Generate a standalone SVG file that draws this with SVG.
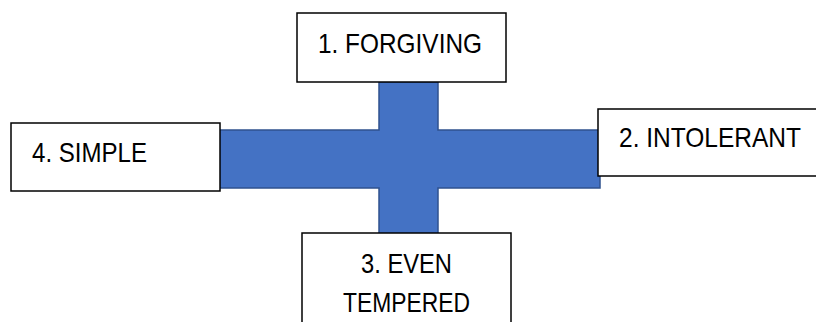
<svg xmlns="http://www.w3.org/2000/svg" width="816" height="322" viewBox="0 0 816 322">
<style>
.box{fill:#fff;stroke:#000;stroke-width:1.5}
.lbl{font-family:"Liberation Sans",Arial,sans-serif;font-size:27.5px;fill:#000}
.cross{fill:#4472C4;stroke:#2F528F;stroke-width:1.5}
</style>
<rect width="816" height="322" fill="#fff"/>
<g id="connectors">
<polygon class="cross" points="379,82 438,82 438,130 600,130 600,188 438,188 438,234 379,234 379,188 218,188 218,130 379,130"/>
</g>
<g id="n1">
<rect class="box" x="297" y="13" width="209" height="69"/>
<text class="lbl" x="318" y="53" textLength="164" lengthAdjust="spacingAndGlyphs">1. FORGIVING</text>
</g>
<g id="n2">
<rect class="box" x="598" y="109" width="225" height="67"/>
<text class="lbl" x="619" y="147" textLength="182" lengthAdjust="spacingAndGlyphs">2. INTOLERANT</text>
</g>
<g id="n3">
<rect class="box" x="302" y="233" width="209" height="100"/>
<text class="lbl" x="361" y="273" textLength="91" lengthAdjust="spacingAndGlyphs">3. EVEN</text>
<text class="lbl" x="343" y="312" textLength="127" lengthAdjust="spacingAndGlyphs">TEMPERED</text>
</g>
<g id="n4">
<rect class="box" x="11" y="123" width="209" height="68"/>
<text class="lbl" x="32" y="162" textLength="115" lengthAdjust="spacingAndGlyphs">4. SIMPLE</text>
</g>
</svg>
